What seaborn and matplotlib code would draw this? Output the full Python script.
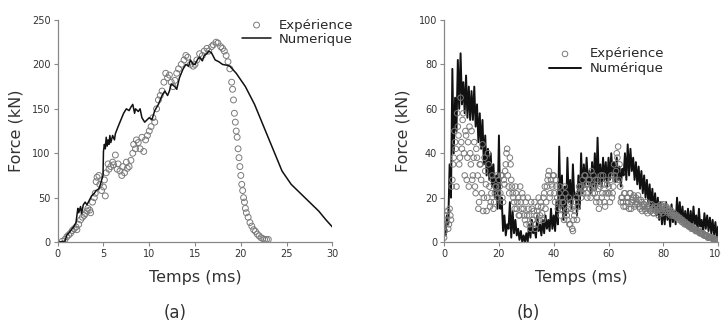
import numpy as np
import pandas as pd
import seaborn as sns
import matplotlib.pyplot as plt

# ---- panel (a) data : Temps (ms) / Force (kN) ----
exp_a_t = [0.5, 0.8, 1.0, 1.2, 1.4, 1.6, 1.8, 2.0, 2.1, 2.3, 2.5, 2.7, 2.9, 3.0, 3.2, 3.3,
           3.5, 3.6, 3.8, 4.0, 4.1, 4.2, 4.3, 4.5, 4.6, 4.8, 5.0, 5.1, 5.2, 5.3, 5.5, 5.6,
           5.8, 6.0, 6.1, 6.3, 6.5, 6.6, 6.8, 7.0, 7.1, 7.3, 7.5, 7.6, 7.8, 8.0, 8.2, 8.3,
           8.5, 8.6, 8.8, 9.0, 9.2, 9.4, 9.6, 9.8, 10.0, 10.2, 10.4, 10.6, 10.8, 11.0, 11.2,
           11.4, 11.6, 11.8, 12.0, 12.2, 12.4, 12.6, 12.8, 13.0, 13.2, 13.5, 13.8, 14.0, 14.2,
           14.5, 14.8, 15.0, 15.2, 15.5, 15.8, 16.0, 16.3, 16.5, 16.8, 17.0, 17.3, 17.5, 17.8,
           18.0, 18.2, 18.4, 18.6, 18.8, 19.0, 19.1, 19.2, 19.3, 19.4, 19.5, 19.6, 19.7, 19.8,
           19.9, 20.0, 20.1, 20.2, 20.3, 20.4, 20.5, 20.6, 20.8, 21.0, 21.2, 21.4, 21.6, 21.8,
           22.0, 22.2, 22.4, 22.6, 22.8, 23.0]
exp_a_f = [1, 3, 6, 8, 10, 13, 15, 17, 14, 20, 25, 28, 30, 32, 35, 38,
           36, 33, 45, 50, 55, 68, 73, 75, 65, 58, 62, 70, 52, 78, 88, 82,
           85, 90, 87, 98, 82, 88, 80, 75, 85, 78, 90, 83, 85, 92, 100, 110,
           105, 115, 112, 105, 118, 102, 115, 120, 125, 130, 140, 135, 150, 160, 165,
           170, 180, 190, 185, 188, 180, 175, 182, 190, 195, 200, 205, 210, 208,
           200, 198, 200, 205, 212, 210, 215, 218, 215, 220, 222, 225, 224, 220,
           218, 215, 210, 203, 195, 180, 172, 160, 145, 135, 125, 118, 105, 95,
           85, 75, 65, 58, 50, 45, 38, 33, 28, 22, 18, 14, 12, 9,
           7, 5, 4, 3, 3, 3]

num_a_t = [0, 0.8, 1.0, 1.2, 1.5, 1.8, 2.0, 2.2, 2.3, 2.5, 2.6, 2.8, 3.0, 3.2, 3.5, 3.7,
           4.0, 4.2, 4.5, 4.7, 4.8, 4.95, 5.0, 5.1, 5.2, 5.3, 5.4, 5.5, 5.6, 5.7, 5.8, 6.0,
           6.2, 6.3, 6.6, 7.0, 7.2, 7.5, 7.8, 8.0, 8.2, 8.4, 8.5, 8.8, 9.0, 9.2, 9.5, 9.8,
           10.0, 10.3, 10.6, 11.0, 11.2, 11.4, 11.7, 12.0, 12.2, 12.4, 12.8, 13.0, 13.3,
           13.7, 14.0, 14.3, 14.5, 14.8, 15.0, 15.3, 15.5, 15.8, 16.0, 16.3, 16.5, 16.8,
           17.2, 17.6, 18.0, 18.5, 18.8, 19.5, 20.5, 21.5, 22.5, 23.5, 24.5, 25.5, 26.5,
           27.5, 28.5, 29.3, 30.0]
num_a_f = [0, 1, 8, 10, 14, 18, 22, 38, 33, 40, 32, 42, 45, 42, 48, 52,
           55, 58, 60, 66, 70, 75, 102, 110, 105, 118, 108, 115, 110, 120, 112, 120,
           115, 122, 130, 140, 145, 150, 148, 152, 155, 145, 150, 147, 150, 140, 135, 138,
           140, 138, 148, 155, 160, 165, 170, 165, 170, 178, 175, 172, 185,
           195, 200, 198, 205, 200, 200, 206, 208, 204, 210, 212, 215, 213,
           205, 203, 200, 199, 198, 190, 175, 155, 130, 105, 80, 65, 55,
           45, 35, 25, 17]

# ---- panel (b) data ----
# experiment, read at 0.5 ms steps (0 .. 100 ms)
exp_b_f = [2, 8, 12, 6, 15, 10, 28, 38, 45, 25, 52, 35, 65, 42, 58, 30, 48, 38, 25, 40,
           50, 30, 45, 22, 38, 15, 35, 28, 44, 20, 32, 14, 40, 25, 18, 30, 15, 22, 25, 20,
           28, 22, 30, 18, 26, 35, 42, 25, 38, 28, 22, 18, 25, 15, 20, 12, 18, 22, 15, 10,
           8, 20, 12, 6, 15, 10, 18, 8, 14, 20, 12, 16, 10, 22, 15, 25, 30, 20, 28, 25,
           30, 18, 25, 15, 22, 12, 20, 18, 25, 14, 10, 20, 8, 15, 5, 12, 18, 10, 22, 25,
           20, 28, 24, 30, 22, 26, 28, 20, 25, 30, 22, 18, 28, 15, 25, 20, 30, 18, 22, 26,
           25, 18, 30, 22, 35, 28, 40, 43, 35, 18, 20, 16, 22, 18, 20, 15, 22, 18, 20, 16,
           20, 17, 19, 15, 18, 16, 17, 14, 16, 15, 17, 14, 15, 13, 16, 14, 15, 13, 17, 16,
           17, 15, 16, 14, 15, 13, 14, 12, 13, 12, 12, 11, 11, 10, 10, 9, 9, 8, 8, 7,
           7, 7, 6, 6, 5, 5, 5, 4, 4, 4, 3, 3, 3, 2, 2, 2, 2, 1, 1, 1,
           1]
# experiment, in-between samples (0.25 .. 99.75 ms)
exp_b_f2 = [5, 10, 14, 8, 12, 25, 35, 50, 42, 58, 48, 38, 45, 55, 40, 50, 28, 45, 52, 35,
            28, 38, 25, 42, 30, 18, 35, 22, 14, 38, 26, 20, 35, 16, 22, 28, 18, 25, 30, 22,
            25, 30, 20, 28, 32, 40, 30, 22, 35, 25, 20, 15, 22, 18, 12, 25, 15, 20, 12, 18,
            12, 15, 8, 18, 10, 14, 6, 12, 16, 10, 18, 13, 20, 25, 18, 28, 32, 22, 26, 30,
            22, 28, 20, 18, 25, 15, 18, 10, 22, 12, 15, 8, 18, 6, 10, 14, 20, 16, 25, 22,
            25, 22, 30, 26, 20, 28, 24, 32, 22, 25, 28, 20, 24, 18, 30, 22, 26, 16, 28, 22,
            22, 28, 20, 25, 30, 32, 38, 28, 25, 20, 18, 22, 16, 20, 18, 22, 15, 19, 21, 17,
            18, 21, 16, 19, 14, 17, 15, 18, 13, 16, 14, 17, 13, 15, 14, 16, 12, 15, 14, 13,
            16, 14, 15, 13, 14, 12, 13, 12, 12, 11, 11, 10, 10, 9, 9, 8, 8, 8, 7, 7,
            6, 6, 6, 5, 5, 5, 4, 4, 4, 3, 3, 3, 2, 2, 2, 2, 1, 1, 1, 1]
# simulation, 0.5 ms steps (0 .. 100 ms)
num_b_f = [5, 3, 12, 8, 35, 20, 78, 40, 65, 50, 82, 60, 85, 62, 72, 58, 75, 56, 70, 55,
           68, 55, 70, 52, 62, 45, 58, 42, 55, 35, 48, 30, 42, 28, 40, 25, 35, 20, 30, 15,
           48, 15, 20, 5, 12, 3, 8, 6, 18, 2, 14, 4, 10, 3, 6, 1, 5, 0, 3, 0,
           4, 0, 8, 2, 10, 4, 6, 2, 12, 5, 8, 3, 10, 4, 12, 6, 10, 5, 15, 6,
           12, 5, 18, 8, 43, 15, 30, 10, 25, 12, 38, 18, 28, 15, 35, 20, 22, 12, 30, 15,
           40, 22, 35, 25, 38, 26, 32, 22, 36, 25, 40, 24, 47, 26, 35, 25, 38, 28, 36, 25,
           38, 28, 40, 30, 36, 27, 38, 28, 34, 25, 33, 30, 40, 28, 44, 30, 42, 32, 38, 28,
           36, 26, 34, 24, 32, 22, 30, 20, 28, 18, 26, 16, 24, 14, 22, 12, 20, 10, 18, 8,
           16, 8, 18, 10, 15, 7, 17, 9, 14, 8, 20, 10, 18, 9, 16, 8, 14, 7, 15, 6,
           14, 6, 16, 8, 12, 5, 15, 7, 10, 4, 13, 6, 12, 5, 11, 4, 10, 3, 9, 2,
           7]
b_t = np.arange(0, 100.01, 0.5)
b_t2 = np.arange(0.25, 100, 0.5)

sns.set_style("ticks")
plt.rcParams['font.family'] = ['DejaVu Sans']

fig = plt.figure(figsize=(7.21, 3.33), dpi=100)
ax1 = fig.add_axes([0.080, 0.273, 0.381, 0.667])
ax2 = fig.add_axes([0.616, 0.273, 0.380, 0.667])

grey = '#7a7a7a'

def style_axis(ax):
    sns.despine(ax=ax)
    for s in ['left', 'bottom']:
        ax.spines[s].set_color('#888888')
        ax.spines[s].set_linewidth(0.9)
    ax.tick_params(axis='both', labelsize=7, colors='#888888', labelcolor='#333333',
                   length=3, width=0.8, pad=2)
    ax.set_xlabel('Temps (ms)', fontsize=11.5, color='#333333', labelpad=8)
    ax.set_ylabel('Force (kN)', fontsize=11.5, color='#333333', labelpad=6)

# (a)
sns.scatterplot(x=exp_a_t, y=exp_a_f, ax=ax1, marker='o', s=18, facecolor='none',
                edgecolor=grey, linewidth=0.7, label='Expérience')
sns.lineplot(x=num_a_t, y=num_a_f, ax=ax1, color='#111111', linewidth=1.1,
             estimator=None, label='Numerique')
ax1.set_xlim(0, 30)
ax1.set_ylim(0, 250)
ax1.set_xticks([0, 5, 10, 15, 20, 25, 30])
ax1.set_yticks([0, 50, 100, 150, 200, 250])
style_axis(ax1)
ax1.legend(loc='upper right', bbox_to_anchor=(1.12, 1.06), frameon=False, fontsize=9.5,
           handlelength=2.2, handletextpad=0.6, labelspacing=0.1)

# (b)
sns.lineplot(x=b_t, y=num_b_f, ax=ax2, color='#111111', linewidth=1.4,
             estimator=None, label='Numérique', zorder=2)
sns.scatterplot(x=b_t, y=exp_b_f, ax=ax2, marker='o', s=16, facecolor='none',
                edgecolor=grey, linewidth=0.7, label='Expérience', zorder=3)
sns.scatterplot(x=b_t2, y=exp_b_f2, ax=ax2, marker='o', s=16, facecolor='none',
                edgecolor=grey, linewidth=0.7, zorder=3)
ax2.set_xlim(0, 100)
ax2.set_ylim(0, 100)
ax2.set_xticks([0, 20, 40, 60, 80, 100])
ax2.set_yticks([0, 20, 40, 60, 80, 100])
style_axis(ax2)
h, l = ax2.get_legend_handles_labels()
order = [l.index('Expérience'), l.index('Numérique')]
ax2.legend([h[i] for i in order], [l[i] for i in order], loc='upper left',
           bbox_to_anchor=(0.34, 0.93), frameon=False, fontsize=9.5,
           handlelength=2.4, handletextpad=0.7, labelspacing=0.15)

fig.text(0.243, 0.045, '(a)', fontsize=12, ha='center', color='#333333')
fig.text(0.733, 0.045, '(b)', fontsize=12, ha='center', color='#333333')

fig.savefig('out.png', dpi=100)
